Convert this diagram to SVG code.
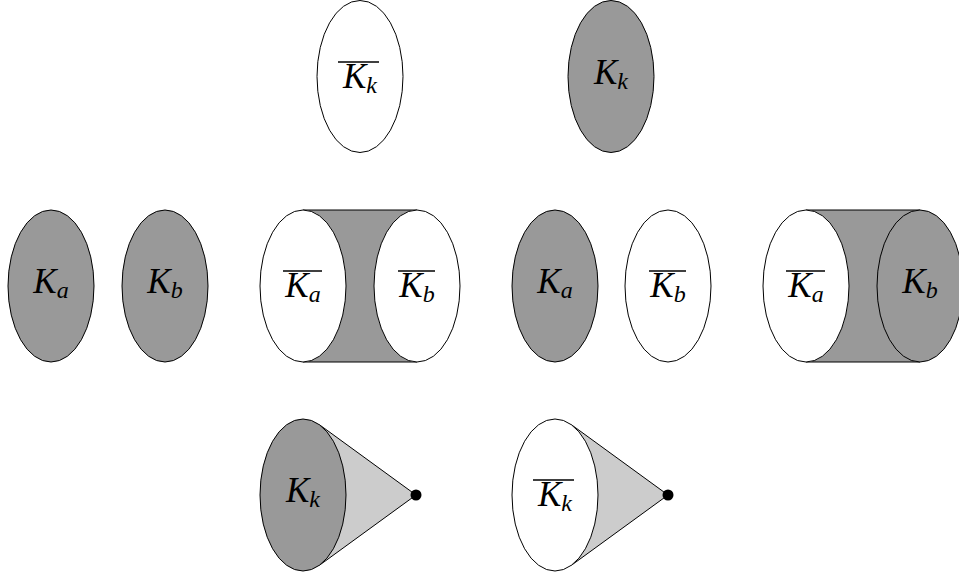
<svg xmlns="http://www.w3.org/2000/svg" width="959" height="576" viewBox="0 0 959 576">
<style>
.e{stroke:#000;stroke-width:1}
.w{fill:#fff}
.g{fill:#999}
.lg{fill:#ccc}
.ln{stroke:#000;stroke-width:1;fill:none}
.ov{stroke:#000;stroke-width:1.3}
.t{font-family:"Liberation Serif","DejaVu Serif",serif;font-style:italic;font-size:35px;fill:#000;text-anchor:middle}
.s{font-size:24px}
</style>
<rect width="959" height="576" fill="#fff"/>
<g id="connectors">
<rect class="g" x="303" y="210" width="114" height="152"/>
<line class="ln" x1="303" y1="210" x2="417" y2="210"/>
<line class="ln" x1="303" y1="362" x2="417" y2="362"/>
<rect class="g" x="806" y="210" width="114" height="152"/>
<line class="ln" x1="806" y1="210" x2="920" y2="210"/>
<line class="ln" x1="806" y1="362" x2="920" y2="362"/>
<polygon class="lg" points="319.4,424.7 416,495 319.4,565.3"/>
<polyline class="ln" points="319.4,424.7 416,495 319.4,565.3"/>
<polygon class="lg" points="571.4,424.7 668,495 571.4,565.3"/>
<polyline class="ln" points="571.4,424.7 668,495 571.4,565.3"/>
</g>
<g id="top-kbar">
<ellipse class="e w" cx="360" cy="76.5" rx="43" ry="76"/>
<line class="ov" x1="338" y1="62" x2="379" y2="62"/>
<text class="t" x="360" y="88">K<tspan class="s" dy="5">k</tspan></text>
</g>
<g id="top-k">
<ellipse class="e g" cx="611" cy="76.5" rx="43" ry="76"/>
<text class="t" x="611" y="84">K<tspan class="s" dy="5">k</tspan></text>
</g>
<g id="ka-1">
<ellipse class="e g" cx="51" cy="286" rx="43" ry="76"/>
<text class="t" x="51" y="293">K<tspan class="s" dy="5">a</tspan></text>
</g>
<g id="kb-1">
<ellipse class="e g" cx="165" cy="286" rx="43" ry="76"/>
<text class="t" x="165" y="293">K<tspan class="s" dy="5">b</tspan></text>
</g>
<g id="cyl1-kabar">
<ellipse class="e w" cx="303" cy="286" rx="43" ry="76"/>
<line class="ov" x1="283" y1="271" x2="322" y2="271"/>
<text class="t" x="303" y="297">K<tspan class="s" dy="5">a</tspan></text>
</g>
<g id="cyl1-kbbar">
<ellipse class="e w" cx="417" cy="286" rx="43" ry="76"/>
<line class="ov" x1="398" y1="271" x2="435" y2="271"/>
<text class="t" x="417" y="297">K<tspan class="s" dy="5">b</tspan></text>
</g>
<g id="ka-2">
<ellipse class="e g" cx="555" cy="286" rx="43" ry="76"/>
<text class="t" x="555" y="293">K<tspan class="s" dy="5">a</tspan></text>
</g>
<g id="kb-2">
<ellipse class="e w" cx="668" cy="286" rx="43" ry="76"/>
<line class="ov" x1="649" y1="271" x2="686" y2="271"/>
<text class="t" x="668" y="297">K<tspan class="s" dy="5">b</tspan></text>
</g>
<g id="cyl2-kabar">
<ellipse class="e w" cx="806" cy="286" rx="43" ry="76"/>
<line class="ov" x1="786" y1="271" x2="825" y2="271"/>
<text class="t" x="806" y="297">K<tspan class="s" dy="5">a</tspan></text>
</g>
<g id="cyl2-kb">
<ellipse class="e g" cx="920" cy="286" rx="43" ry="76"/>
<text class="t" x="920" y="293">K<tspan class="s" dy="5">b</tspan></text>
</g>
<g id="cone1-k">
<ellipse class="e g" cx="303" cy="495" rx="43" ry="76"/>
<text class="t" x="303" y="502">K<tspan class="s" dy="5">k</tspan></text>
<circle cx="416" cy="495" r="5.5" fill="#000"/>
</g>
<g id="cone2-kbar">
<ellipse class="e w" cx="555" cy="495" rx="43" ry="76"/>
<line class="ov" x1="533" y1="480" x2="574" y2="480"/>
<text class="t" x="555" y="506">K<tspan class="s" dy="5">k</tspan></text>
<circle cx="668" cy="495" r="5.5" fill="#000"/>
</g>
</svg>
